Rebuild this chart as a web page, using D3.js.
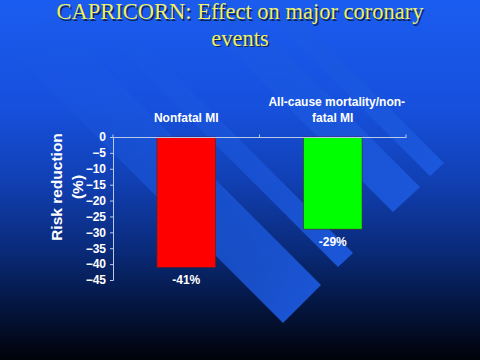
<!DOCTYPE html>
<html><head><meta charset="utf-8">
<script src="https://cdn.jsdelivr.net/npm/d3@7"></script>
<style>html,body{margin:0;padding:0;background:#000;}svg{display:block;}</style>
</head><body>
<script>
const titleLines = ["CAPRICORN: Effect on major coronary", "events"];
const categories = ["Nonfatal MI", "All-cause mortality/non-|fatal MI"];
const values = [-41, -29];
const valueLabels = ["-41%", "-29%"];
const barColors = ["#ff0000", "#00ff00"];
const yTicks = [0, -5, -10, -15, -20, -25, -30, -35, -40, -45];
const yLabel = ["Risk reduction", "(%)"];

const W = 480, H = 360;
const svg = d3.select("body").append("svg").attr("width", W).attr("height", H);
const defs = svg.append("defs");
const bg = defs.append("linearGradient").attr("id","bg").attr("x1",0).attr("y1",0).attr("x2",0).attr("y2",1);
[[0,"#1b5cf0"],[0.3,"#1650dc"],[0.5,"#1140b4"],[0.7,"#0a2a78"],[0.85,"#041640"],[1,"#000208"]]
  .forEach(([o,c]) => bg.append("stop").attr("offset",o).attr("stop-color",c));
svg.append("rect").attr("width",W).attr("height",H).attr("fill","url(#bg)");

// decorative diagonal stripes
const sg = defs.append("linearGradient").attr("id","sg").attr("x1",0).attr("y1",0).attr("x2",1).attr("y2",1);
sg.append("stop").attr("offset",0).attr("stop-color","#1c5ae0").attr("stop-opacity",0);
sg.append("stop").attr("offset",0.5).attr("stop-color","#1c5ae0").attr("stop-opacity",0.55);
sg.append("stop").attr("offset",1).attr("stop-color","#1c58dc").attr("stop-opacity",1);
const stripes = [
  {a:[283,323], b:[321,285], len:270},
  {a:[338,267], b:[353,253], len:230},
  {a:[393,212], b:[420,187], len:220},
  {a:[430,176], b:[444,163], len:200}
];
stripes.forEach(s => {
  const [ax,ay]=s.a, [bx,by]=s.b, L=s.len;
  const pts = [[ax,ay],[bx,by],[bx-L,by-L],[ax-L,ay-L]];
  svg.append("polygon").attr("points", pts.map(p=>p.join(",")).join(" "))
    .attr("fill","url(#sg)");
});

// title
const title = svg.append("g");
titleLines.forEach((t,i) => {
  title.append("text").attr("x",241.5).attr("y",20.5+i*26.5).attr("text-anchor","middle")
    .attr("font-family","'Liberation Serif','Times New Roman',serif").attr("font-size",22.5)
    .attr("fill","#0c1a3a").attr("opacity",0.85).text(t);
  title.append("text").attr("x",240).attr("y",19+i*26.5).attr("text-anchor","middle")
    .attr("font-family","'Liberation Serif','Times New Roman',serif").attr("font-size",22.5)
    .attr("fill","#f0f066").text(t);
});

const x = d3.scaleBand().domain(categories).range([113,406]).paddingInner(0.6).paddingOuter(0.3);
const y = d3.scaleLinear().domain([0,-45]).range([137,280]);

// bars
svg.append("g").selectAll("rect").data(values).join("rect")
  .attr("x",(d,i)=>x(categories[i])).attr("y",y(0))
  .attr("width",x.bandwidth()).attr("height",d=>y(d)-y(0))
  .attr("fill",(d,i)=>barColors[i]).attr("stroke","#552222").attr("stroke-width",0.6);

// y axis
const ya = svg.append("g").attr("transform","translate(113,0)")
  .call(d3.axisLeft(y).tickValues(yTicks).tickSize(3).tickPadding(4).tickFormat(d3.format("d")));
ya.select(".domain").attr("stroke","#b8c8e8");
ya.selectAll(".tick line").attr("stroke","#b8c8e8");
ya.selectAll("text").attr("fill","#ffffff").attr("font-family","Arial,'Liberation Sans',sans-serif")
  .attr("font-weight","bold").attr("font-size",12);

// top category axis line
const xa = svg.append("g").attr("transform","translate(0,137)")
  .call(d3.axisTop(x).tickSize(0).tickFormat(""));
xa.select(".domain").attr("stroke","#b8c8e8");
xa.selectAll(".tick").remove();
const step = x.step();
[113, 113+step, 406].forEach(px => xa.append("line").attr("x1",px).attr("x2",px).attr("y1",0).attr("y2",-2.5).attr("stroke","#b8c8e8"));

// category labels
categories.forEach((c,i) => {
  const lines = c.split("|");
  const cx = x(c) + x.bandwidth()/2;
  lines.forEach((l,j) => {
    svg.append("text").attr("x",cx + (lines.length>1 && j===0 ? 4 : 0)).attr("y",122 - (lines.length-1-j)*16)
      .attr("text-anchor","middle").attr("fill","#ffffff")
      .attr("font-family","Arial,'Liberation Sans',sans-serif").attr("font-weight","bold").attr("font-size",12)
      .text(l);
  });
});

// value labels
values.forEach((v,i) => {
  svg.append("text").attr("x",x(categories[i])+x.bandwidth()/2).attr("y",y(v)+16.5)
    .attr("text-anchor","middle").attr("fill","#ffffff")
    .attr("font-family","Arial,'Liberation Sans',sans-serif").attr("font-weight","bold").attr("font-size",12)
    .text(valueLabels[i]);
});

// y label
yLabel.forEach((t,i) => {
  svg.append("text").attr("transform",`translate(${62+i*21},187) rotate(-90)`)
    .attr("text-anchor","middle").attr("fill","#ffffff")
    .attr("font-family","Arial,'Liberation Sans',sans-serif").attr("font-weight","bold").attr("font-size",15.5)
    .text(t);
});
</script>
</body></html>
